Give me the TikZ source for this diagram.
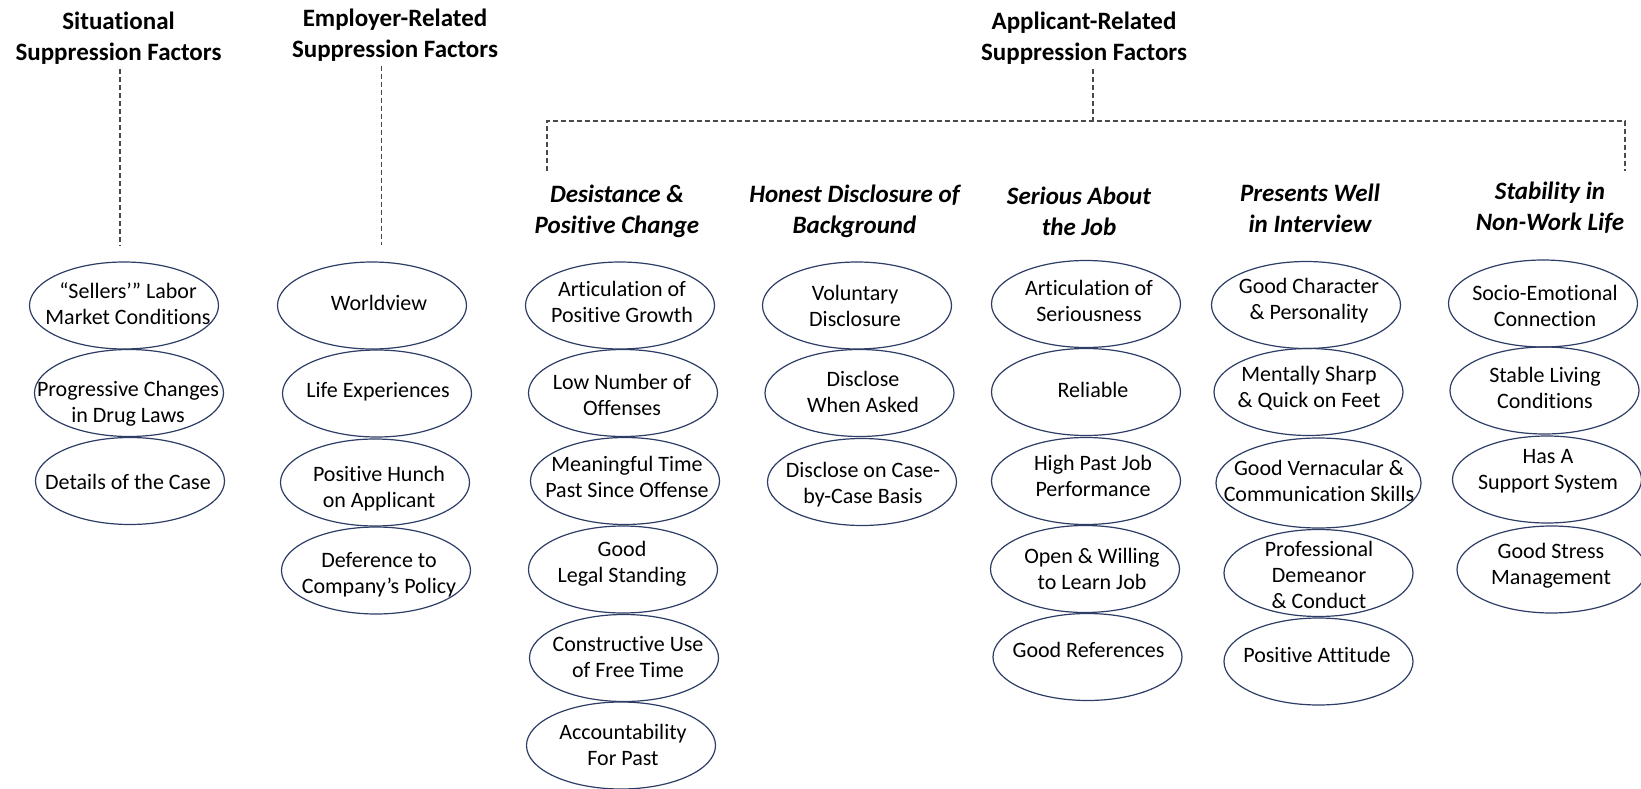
\documentclass[tikz,border=0pt]{standalone}
\usepackage{fontspec}
\setmainfont{Carlito}[Ligatures=NoCommon]
\usetikzlibrary{shapes.geometric}
\definecolor{ovalline}{HTML}{2E3D66}
\definecolor{dashline}{HTML}{4A4A4A}

% one factor: an oval plus its centred label
% #1 extra oval style, #2 name, #3 oval centre, #4 label centre, #5 label
\newcommand\factorbox[5][]{%
  \node[oval,#1] (#2) at (#3) {};
  \node[ovaltext] (#2-t) at (#4) {#5};}

\begin{document}
\begin{tikzpicture}[x=1pt,y=-1pt,
  oval/.style={draw=ovalline, line width=1.2pt, ellipse,
    minimum width=189pt, minimum height=87pt, inner sep=0pt},
  ovaltext/.style={align=center, inner sep=0pt,
    font=\fontsize{22}{26}\selectfont},
  group/.style={align=center, inner sep=0pt,
    font=\fontsize{25}{31}\selectfont\bfseries},
  theme/.style={align=center, inner sep=0pt,
    font=\fontsize{25}{31}\selectfont\bfseries\itshape},
  link/.style={draw=dashline, line width=1.1pt, dash pattern=on 5pt off 3pt}]

\useasboundingbox[fill=white] (0,0) rectangle (1641,789);

% ---- group headings
\node[group] (situational) at (118.5,38.5) {Situational\\Suppression Factors};
\node[group] (employer) at (395,35.5) {Employer-Related\\Suppression Factors};
\node[group] (applicant) at (1084,38.5) {Applicant-Related\\Suppression Factors};

% ---- applicant themes
\node[theme] (desistance) at (617,211) {Desistance \&\\Positive Change};
\node[theme] (honest) at (854.5,211) {Honest Disclosure of\\Background};
\node[theme] (serious) at (1079,211) {Serious About\\the Job};
\node[theme] (presents) at (1310,208) {Presents Well\\in Interview};
\node[theme] (stability) at (1550,207.5) {Stability in\\Non-Work Life};

% ---- dashed connectors
\coordinate (sit-foot) at (120,246);
\coordinate (emp-foot) at (381.7,245);
\coordinate (bar-mid) at (1093,121);
\coordinate (bar-left) at (547,171);
\coordinate (bar-right) at (1625,171);
\draw[link] (situational.south -| sit-foot) ++(0,4) -- (sit-foot);
\draw[link] (employer.south -| emp-foot) ++(0,4) -- (emp-foot);
\draw[link] (applicant.south -| bar-mid) ++(0,4) -- (bar-mid);
\draw[link] (bar-left) |- (bar-mid) -| (bar-right);

% ---- situational factors
\factorbox{sellers}{124,305.5}{128,304}{“Sellers’” Labor\\Market Conditions}
\factorbox{drug}{129,393}{128,404}{Progressive Changes\\in Drug Laws}
\factorbox{case}{130,481}{128,482}{Details of the Case}

% ---- employer factors
\factorbox{world}{372,305.5}{379,303}{Worldview}
\factorbox{life}{377,393.5}{378,392}{Life Experiences}
\factorbox{hunch}{375,482.5}{379,489}{Positive Hunch\\on Applicant}
\factorbox{defer}{376,570.5}{379,575}{Deference to\\Company’s Policy}

% ---- desistance & positive change
\factorbox{growth}{620,305.5}{622,302}{Articulation of\\Positive Growth}
\factorbox{lownum}{623,393}{622,395}{Low Number of\\Offenses}
\factorbox{timepast}{625,481}{627,476.5}{Meaningful Time\\Past Since Offense}
\factorbox{legal}{623,569.5}{622,564}{Good\\Legal Standing}
\factorbox{freetime}{624,658}{628,657.5}{Constructive Use\\of Free Time}
\factorbox{account}{621,745.5}{623,745}{Accountability\\For Past}

% ---- honest disclosure
\factorbox{voluntary}{857,305.5}{855,306}{Voluntary\\Disclosure}
\factorbox{asked}{859.5,393}{863,392}{Disclose\\When Asked}
\factorbox{casebycase}{862,482}{863,485}{Disclose on Case-\\by-Case Basis}

% ---- serious about the job
\factorbox{seriousness}{1086,304}{1089,300.5}{Articulation of\\Seriousness}
\factorbox{reliable}{1086,392}{1093,390}{Reliable}
\factorbox{pastjob}{1086,481}{1093,476}{High Past Job\\Performance}
\factorbox{learn}{1085,569}{1092,569}{Open \& Willing\\to Learn Job}
\factorbox{refs}{1087.5,657}{1088.5,650}{Good References}

% ---- presents well in interview
\factorbox{character}{1306,305}{1309,300.5}{Good Character\\\& Personality}
\factorbox{sharp}{1308.5,392}{1309,388}{Mentally Sharp\\\& Quick on Feet}
\factorbox[minimum width=205pt, minimum height=90pt]{vernacular}{1318.5,483}{1319,480.5}{Good Vernacular \&\\Communication Skills}
\factorbox{demeanor}{1318.5,573}{1319,574.7}{Professional\\Demeanor\\\& Conduct}
\factorbox{attitude}{1318.5,661.5}{1317,655}{Positive Attitude}

% ---- stability in non-work life
\factorbox{socio}{1543,303.5}{1545,305.8}{Socio-Emotional\\Connection}
\factorbox{living}{1544.5,390.5}{1545,388.3}{Stable Living\\Conditions}
\factorbox{support}{1547,479.5}{1548,471.7}{Has A\\Support System}
\factorbox{stress}{1551.5,569.5}{1551,566}{Good Stress\\Management}

\end{tikzpicture}
\end{document}
